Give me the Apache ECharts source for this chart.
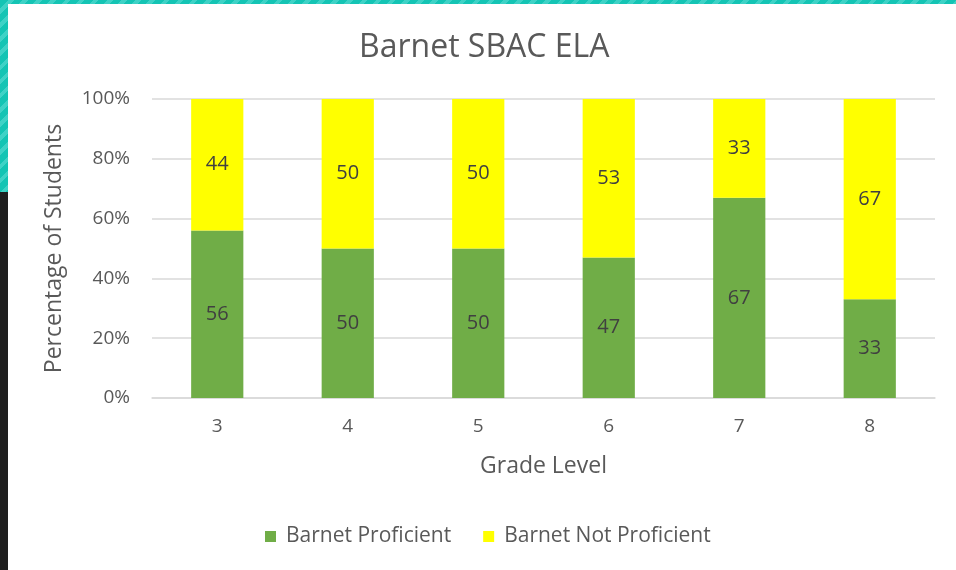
<!DOCTYPE html>
<html>
<head>
<meta charset="utf-8">
<script src="https://cdn.jsdelivr.net/npm/echarts@6/dist/echarts.min.js"></script>
<style>
	body { margin: 0; background: #fff; }
	.frame { position: relative; width: 956px; height: 570px; overflow: hidden; }
	.chart-ctn { position: absolute; left: 0; top: 0; width: 956px; height: 570px; }
	.stripe-top { position: absolute; left: 0; top: 0; width: 956px; height: 4px;
		background: repeating-linear-gradient(135deg, #14c4b4 0 6px, #3ed2c6 6px 10px); }
	.stripe-left { position: absolute; left: 0; top: 0; width: 8px; height: 192px;
		background: repeating-linear-gradient(135deg, #14c4b4 0 6px, #3ed2c6 6px 10px); }
	.dark-left { position: absolute; left: 0; top: 192px; width: 8px; height: 378px; background: #1f1f1f; }
</style>
</head>
<body>
<div class="frame">
	<div class="chart-ctn" id="main"></div>
	<div class="stripe-top"></div>
	<div class="stripe-left"></div>
	<div class="dark-left"></div>
</div>
<script>
// data
const grades = ['3', '4', '5', '6', '7', '8']
const proficient = [56, 50, 50, 47, 67, 33]
const notProficient = [44, 50, 50, 53, 33, 67]
const yTicks = [0, 20, 40, 60, 80, 100]

const font = 'Open Sans'
const myChart = echarts.init(document.getElementById('main'), null, { renderer: 'canvas' })

const labelStyle = {
	show: true,
	position: 'inside',
	color: '#404040',
	fontFamily: font,
	fontSize: 20,
}

const option = {
	backgroundColor: 'transparent',
	animation: false,
	title: {
		text: 'Barnet SBAC ELA',
		left: 354,
		top: 27,
		textStyle: { fontFamily: font, fontSize: 32, fontWeight: 'normal', color: '#595959' },
	},
	legend: {
		bottom: 18,
		left: 260,
		itemWidth: 11,
		itemHeight: 11,
		itemGap: 32,
		icon: 'rect',
		textStyle: { fontFamily: font, fontSize: 21, color: '#595959', padding: [0, 0, 0, 5] },
		data: ['Barnet Proficient', 'Barnet Not Proficient'],
	},
	grid: { left: 152, right: 21, top: 99, bottom: 172 },
	xAxis: {
		type: 'category',
		data: grades,
		name: 'Grade Level',
		nameLocation: 'middle',
		nameGap: 57,
		nameTextStyle: { fontFamily: font, fontSize: 23, color: '#595959' },
		axisLine: { lineStyle: { color: '#d9d9d9', width: 1.5 } },
		axisTick: { show: false },
		axisLabel: { fontFamily: font, fontSize: 19, color: '#595959', margin: 19 },
	},
	yAxis: {
		type: 'value',
		min: yTicks[0],
		max: yTicks[yTicks.length - 1],
		interval: 20,
		name: 'Percentage of Students',
		nameLocation: 'middle',
		nameGap: 86,
		nameTextStyle: { fontFamily: font, fontSize: 23, color: '#595959' },
		axisLine: { show: false },
		axisTick: { show: false },
		axisLabel: { formatter: '{value}%', fontFamily: font, fontSize: 19, color: '#595959', margin: 22 },
		splitLine: { lineStyle: { color: '#d9d9d9', width: 1.5 } },
	},
	series: [
		{
			name: 'Barnet Proficient',
			type: 'bar',
			stack: 'total',
			barWidth: '40%',
			data: proficient,
			itemStyle: { color: '#70ad47' },
			label: labelStyle,
		},
		{
			name: 'Barnet Not Proficient',
			type: 'bar',
			stack: 'total',
			barWidth: '40%',
			data: notProficient,
			itemStyle: { color: '#ffff00' },
			label: labelStyle,
		},
	],
}
myChart.setOption(option)
</script>
</body>
</html>
